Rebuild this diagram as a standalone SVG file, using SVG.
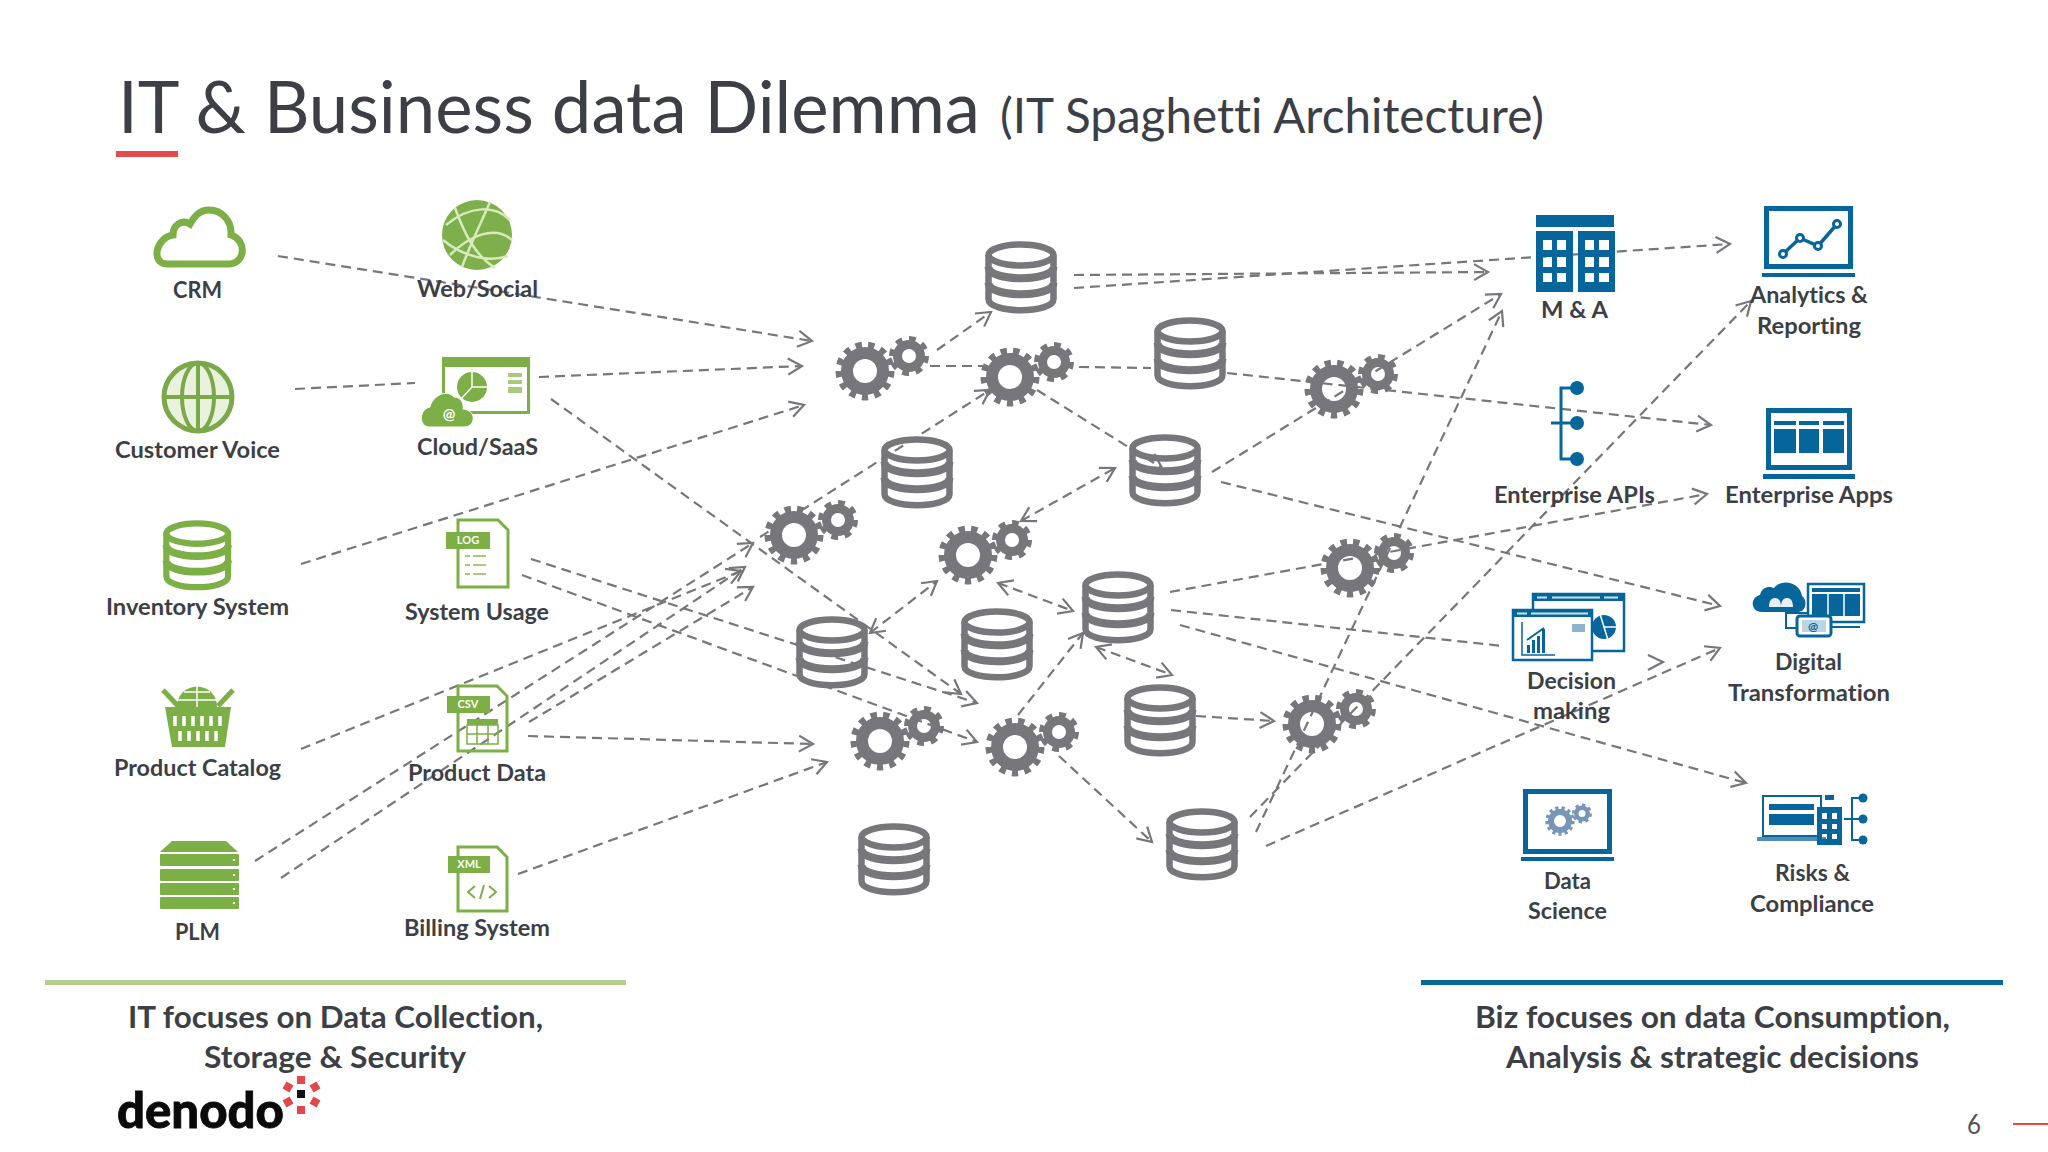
<svg xmlns="http://www.w3.org/2000/svg" width="2048" height="1152" viewBox="0 0 2048 1152">
<style>
text{font-family:"Lato","Noto Sans",sans-serif;fill:#3c3f46;font-variant-ligatures:none}
.l{font-size:22px;font-weight:700}
.h{font-size:30px;font-weight:700}
.c line{stroke:#77777b;stroke-width:2.2;stroke-dasharray:10 6;fill:none}
.a{marker-end:url(#v)}
.b{marker-start:url(#v);marker-end:url(#v)}
.g{color:#7caf45}
.gf{fill:#7caf45}
.bf{fill:#06669b}
.bs{fill:none;stroke:#06669b}
.gs{fill:none;stroke:#7caf45}
.w{fill:#fff}
.grey{color:#77777b}
.tag{font-size:11px;font-weight:700;fill:#fff;text-anchor:middle}
</style>
<defs>
<marker id="v" markerUnits="userSpaceOnUse" markerWidth="22" markerHeight="22" refX="17" refY="11" orient="auto-start-reverse"><path d="M3 3L17 11L3 19" fill="none" stroke="#77777b" stroke-width="2.2"/></marker>
<g id="db" fill="none" stroke="currentColor" stroke-width="6.5">
<ellipse cx="36" cy="14" rx="32.5" ry="10.5"/>
<path d="M3.5 14V58C3.500 73 68.500 73 68.500 58V14"/>
<path d="M3.500 26C3.500 41 68.500 41 68.500 26" stroke-width="8"/>
<path d="M3.500 42C3.500 57 68.500 57 68.500 42" stroke-width="8"/>
</g>
<g id="gears" fill="none" stroke="currentColor">
<circle r="18" stroke-width="12"/>
<circle r="26" stroke-width="7" pathLength="26" stroke-dasharray="1 1"/>
<circle cx="44" cy="-15" r="11.500" stroke-width="9"/>
<circle cx="44" cy="-15" r="17.500" stroke-width="5" pathLength="16" stroke-dasharray="1 1"/>
</g>
</defs>
<rect width="2048" height="1152" fill="#fff"/>
<g id="title">
<text x="118" y="133" font-size="72" textLength="862" lengthAdjust="spacingAndGlyphs">IT &amp; Business data Dilemma</text>
<text x="1000" y="133" font-size="48" textLength="544" lengthAdjust="spacingAndGlyphs">(IT Spaghetti Architecture)</text>
<rect x="116" y="151" width="62" height="6" fill="#e04b4b"/>
</g>
<g id="connectors" class="c">
<line class="a" x1="278" y1="256" x2="812" y2="341"/>
<line x1="295" y1="389" x2="415" y2="383"/>
<line class="a" x1="539" y1="377" x2="802" y2="366"/>
<line class="a" x1="301" y1="564" x2="804" y2="405"/>
<line class="a" x1="551" y1="399" x2="961" y2="694"/>
<line class="a" x1="531" y1="559" x2="977" y2="703"/>
<line class="a" x1="522" y1="575" x2="977" y2="742"/>
<line class="a" x1="301" y1="749" x2="741" y2="571"/>
<line class="a" x1="255" y1="861" x2="753" y2="543"/>
<line class="a" x1="281" y1="878" x2="745" y2="567"/>
<line class="a" x1="529" y1="722" x2="753" y2="587"/>
<line class="a" x1="528" y1="736" x2="813" y2="744"/>
<line class="a" x1="518" y1="874" x2="827" y2="762"/>
<line class="a" x1="760" y1="537" x2="990" y2="390"/>
<line class="a" x1="937" y1="350" x2="991" y2="312"/>
<line x1="930" y1="366" x2="986" y2="366"/>
<line x1="1079" y1="367" x2="1151" y2="368"/>
<line class="a" x1="1037" y1="390" x2="1162" y2="468"/>
<line class="a" x1="1074" y1="275" x2="1488" y2="272"/>
<line class="a" x1="1074" y1="288" x2="1730" y2="244"/>
<line class="a" x1="1227" y1="373" x2="1711" y2="425"/>
<line class="a" x1="1212" y1="472" x2="1501" y2="294"/>
<line class="a" x1="1221" y1="482" x2="1720" y2="606"/>
<line class="a" x1="1170" y1="592" x2="1707" y2="494"/>
<line x1="1171" y1="610" x2="1503" y2="646"/>
<line class="a" x1="1180" y1="625" x2="1746" y2="783"/>
<line class="a" x1="1256" y1="832" x2="1502" y2="311"/>
<line class="a" x1="1250" y1="817" x2="1751" y2="301"/>
<line class="a" x1="1266" y1="846" x2="1720" y2="648"/>
<line class="a" x1="1059" y1="756" x2="1152" y2="842"/>
<line class="a" x1="1018" y1="715" x2="1083" y2="633"/>
<line class="a" x1="1196" y1="716" x2="1274" y2="721"/>
<line class="b" x1="1096" y1="647" x2="1172" y2="675"/>
<line class="b" x1="998" y1="583" x2="1073" y2="611"/>
<line class="b" x1="870" y1="633" x2="937" y2="581"/>
<line class="b" x1="1021" y1="521" x2="1115" y2="468"/>
<path d="M1648 655L1663 662L1648 670" fill="none" stroke="#77777b" stroke-width="2.2"/>
</g>
<g id="process" class="grey">
<use id="db1" href="#db" x="985" y="241"/>
<use id="db2" href="#db" x="1154" y="317"/>
<use id="db3" href="#db" x="881" y="436"/>
<use id="db4" href="#db" x="1129" y="434"/>
<use id="db5" href="#db" x="796" y="616"/>
<use id="db6" href="#db" x="961" y="608"/>
<use id="db7" href="#db" x="1082" y="571"/>
<use id="db8" href="#db" x="1124" y="684"/>
<use id="db9" href="#db" x="858" y="823"/>
<use id="db10" href="#db" x="1166" y="808"/>
<use id="gears1" href="#gears" x="865" y="371"/>
<use id="gears2" href="#gears" x="1010" y="377"/>
<use id="gears3" href="#gears" x="1334" y="389"/>
<use id="gears4" href="#gears" x="794" y="535"/>
<use id="gears5" href="#gears" x="968" y="555"/>
<use id="gears6" href="#gears" x="1350" y="568"/>
<use id="gears7" href="#gears" x="880" y="741"/>
<use id="gears8" href="#gears" x="1015" y="747"/>
<use id="gears9" href="#gears" x="1312" y="724"/>
</g>
<g id="crm">
<path class="gs" stroke-width="7" d="M167 264H228C246 264 247 240 231 235C232 221 222 210 209 210C199 210 194 217 190 224C182 219 173 225 173 235C155 238 151 264 167 264Z"/>
<text class="l" x="173" y="298" textLength="49" lengthAdjust="spacingAndGlyphs">CRM</text>
</g>
<g id="web-social">
<circle cx="477" cy="235" r="35" fill="#7fae4c"/>
<path d="M446 225C470 205 495 205 510 220M450 255C470 235 495 225 512 240M455 208C465 235 475 255 495 268M490 202C480 225 470 245 462 267M443 240C465 258 490 262 508 256" fill="none" stroke="#d6ebb8" stroke-width="2.500"/>
<text class="l" x="417" y="297" textLength="121" lengthAdjust="spacingAndGlyphs">Web/Social</text>
</g>
<g id="customer-voice">
<circle cx="198" cy="397" r="34" fill="#e9f2dc" stroke="#7ca84c" stroke-width="5"/>
<ellipse cx="198" cy="397" rx="16" ry="34" fill="none" stroke="#7ca84c" stroke-width="4"/>
<path d="M198 363V431M164 397H232" fill="none" stroke="#7ca84c" stroke-width="4"/>
<text class="l" x="115" y="458" textLength="165" lengthAdjust="spacingAndGlyphs">Customer Voice</text>
</g>
<g id="cloud-saas">
<rect x="443.500" y="358.500" width="85" height="54" class="gs" stroke-width="3"/>
<rect x="442" y="357" width="88" height="10" class="gf"/>
<circle cx="472" cy="387" r="15" class="gf"/>
<path d="M472 372V387L461 399M472 387H487" fill="none" stroke="#fff" stroke-width="1.500"/>
<path d="M508 373h14v4h-14zM508 380h14v4h-14zM508 387h14v6h-14z" fill="#a9c97f"/>
<path d="M430 427C418 427 419 409 430 407C432 397 446 388 454 397C462 397 464 405 463 409C477 410 476 427 464 427Z" class="gf" stroke="#fff" stroke-width="1"/>
<text class="tag" x="449" y="419" font-size="15" style="font-size:15px">@</text>
<text class="l" x="417" y="455" textLength="121" lengthAdjust="spacingAndGlyphs">Cloud/SaaS</text>
</g>
<g id="inventory-system" class="g">
<use href="#db" transform="translate(163 520) scale(.95 .97)"/>
<text class="l" x="106" y="615" textLength="183" lengthAdjust="spacingAndGlyphs">Inventory System</text>
</g>
<g id="system-usage">
<path class="gs" stroke-width="3" d="M458 520H498L508 530V587H458Z"/>
<rect x="446" y="532" width="44" height="17" class="gf"/>
<text class="tag" x="468" y="544">LOG</text>
<path d="M465 556h5M473 556h13M465 565h5M473 565h13M465 574h5M473 574h13" stroke="#a9c97f" stroke-width="2"/>
<text class="l" x="405" y="620" textLength="144" lengthAdjust="spacingAndGlyphs">System Usage</text>
</g>
<g id="product-catalog">
<path class="gf" d="M177 707C177 680 217 680 217 707Z"/>
<path d="M197 682V707M184 692H210M177 700H217" stroke="#fff" stroke-width="1.500" fill="none"/>
<path d="M163 690L178 706M233 690L218 706" class="gs" stroke-width="5"/>
<path class="gf" d="M165 707H231L225 747H172Z"/>
<path d="M175 716v10M184 716v10M193 716v10M202 716v10M211 716v10M220 716v10M180 731v10M189 731v10M198 731v10M207 731v10M216 731v10" stroke="#fff" stroke-width="3.500"/>
<text class="l" x="114" y="776" textLength="167" lengthAdjust="spacingAndGlyphs">Product Catalog</text>
</g>
<g id="product-data">
<path class="gs" stroke-width="3" d="M458 686H497L507 696V751H458Z"/>
<rect x="447" y="696" width="43" height="17" class="gf"/>
<text class="tag" x="468" y="708">CSV</text>
<path d="M467 719h31v6h-31z" class="gf"/>
<path d="M467 725h31v19h-31zM477 725v19M488 725v19M467 734h31" class="gs" stroke-width="1.500"/>
<text class="l" x="408" y="781" textLength="138" lengthAdjust="spacingAndGlyphs">Product Data</text>
</g>
<g id="plm">
<path class="gf" d="M172 841H226L238 852H160Z"/>
<rect x="160" y="854" width="79" height="12" rx="1" class="gf"/>
<rect x="160" y="869" width="79" height="12" rx="1" class="gf"/>
<rect x="160" y="883" width="79" height="12" rx="1" class="gf"/>
<rect x="160" y="897" width="79" height="12" rx="1" class="gf"/>
<path d="M233 860h2M233 875h2M233 889h2M233 903h2" stroke="#fff" stroke-width="2"/>
<text class="l" x="175" y="940" textLength="45" lengthAdjust="spacingAndGlyphs">PLM</text>
</g>
<g id="billing-system">
<path class="gs" stroke-width="3" d="M458 847H497L507 857V911H458Z"/>
<rect x="448" y="856" width="42" height="17" class="gf"/>
<text class="tag" x="469" y="868">XML</text>
<path d="M475 886L468 892L475 898M489 886L496 892L489 898M480 899L484 885" class="gs" stroke-width="2"/>
<text class="l" x="404" y="936" textLength="146" lengthAdjust="spacingAndGlyphs">Billing System</text>
</g>
<g id="it-note">
<rect x="45" y="980" width="581" height="5" fill="#b5cf8f"/>
<text class="h" x="128" y="1028" textLength="415" lengthAdjust="spacingAndGlyphs">IT focuses on Data Collection,</text>
<text class="h" x="204" y="1068" textLength="262" lengthAdjust="spacingAndGlyphs">Storage &amp; Security</text>
</g>
<g id="denodo">
<text x="117" y="1128" font-size="50" font-weight="900" style="fill:#0a0a0a;stroke:#0a0a0a;stroke-width:.8" textLength="167" lengthAdjust="spacingAndGlyphs">denodo</text>
<rect x="297" y="1090" width="8" height="8" fill="#111"/>
<g fill="#e2474b"><rect x="297" y="1076" width="8" height="8"/><rect x="297" y="1106" width="8" height="8"/><rect x="284" y="1083" width="8" height="8" transform="rotate(30 288 1087)"/><rect x="311" y="1083" width="8" height="8" transform="rotate(-30 315 1087)"/><rect x="284" y="1098" width="8" height="8" transform="rotate(-30 288 1102)"/><rect x="311" y="1098" width="8" height="8" transform="rotate(30 315 1102)"/></g>
</g>
<g id="m-and-a">
<rect x="1536" y="215" width="78" height="12" class="bf"/>
<path class="bf" fill-rule="evenodd" d="M1536 231h37v61h-37zM1543 240v10h9v-10zM1557 240v10h9v-10zM1543 257v10h9v-10zM1557 257v10h9v-10zM1543 273v9h9v-9zM1557 273v9h9v-9zM1578 231h37v61h-37zM1585 240v10h9v-10zM1599 240v10h10v-10zM1585 257v10h9v-10zM1599 257v10h10v-10zM1585 273v9h9v-9zM1599 273v9h10v-9z"/>
<text class="l" x="1541" y="318" textLength="67" lengthAdjust="spacingAndGlyphs">M &amp; A</text>
</g>
<g id="analytics">
<rect x="1766.500" y="208.500" width="84" height="58" class="bs" stroke-width="5"/>
<rect x="1762" y="273" width="93" height="4" class="bf"/>
<path class="bs" stroke-width="3.500" d="M1783 254L1800 238L1818 246L1837 224"/>
<g class="w" stroke="#06669b" stroke-width="3"><circle cx="1783" cy="254" r="3.500"/><circle cx="1800" cy="238" r="3.500"/><circle cx="1818" cy="246" r="3.500"/><circle cx="1837" cy="224" r="3.500"/></g>
<text class="l" x="1750" y="303" textLength="118" lengthAdjust="spacingAndGlyphs">Analytics &amp;</text>
<text class="l" x="1757" y="334" textLength="104" lengthAdjust="spacingAndGlyphs">Reporting</text>
</g>
<g id="enterprise-apis">
<path class="bs" stroke-width="3" d="M1577 388H1561V459H1577M1551 423H1577"/>
<circle cx="1577" cy="388" r="7" class="bf"/><circle cx="1577" cy="423" r="7" class="bf"/><circle cx="1577" cy="459" r="7" class="bf"/>
<text class="l" x="1494" y="503" textLength="161" lengthAdjust="spacingAndGlyphs">Enterprise APIs</text>
</g>
<g id="enterprise-apps">
<rect x="1768.500" y="410.500" width="81" height="57" class="bs" stroke-width="5"/>
<rect x="1763" y="474" width="92" height="5" class="bf"/>
<path class="bf" d="M1774 421h22v4h-22zM1799 421h20v4h-20zM1823 421h21v4h-21zM1774 429h22v24h-22zM1799 429h20v24h-20zM1823 429h21v24h-21z"/>
<text class="l" x="1725" y="503" textLength="168" lengthAdjust="spacingAndGlyphs">Enterprise Apps</text>
</g>
<g id="decision-making">
<rect x="1533" y="594" width="91" height="57" class="w" stroke="#06669b" stroke-width="2.500"/>
<rect x="1533" y="594" width="91" height="7" class="bf"/>
<path d="M1537 597.500h10M1552 597.500h48M1604 597.500h14" stroke="#cfe0ea" stroke-width="2"/>
<circle cx="1604" cy="627" r="12" class="bf"/>
<path d="M1600 614L1608 640M1604 627H1617" stroke="#fff" stroke-width="1.500" fill="none"/>
<rect x="1513" y="610" width="79" height="50" class="w" stroke="#06669b" stroke-width="2.500"/>
<rect x="1513" y="610" width="79" height="7" class="bf"/>
<path d="M1517 613.500h10M1531 613.500h57" stroke="#cfe0ea" stroke-width="2"/>
<path class="bs" stroke-width="1.500" d="M1522 622V655H1555"/>
<path class="bf" d="M1527 645h3v8h-3zM1532 640h3v13h-3zM1537 636h3v17h-3zM1542 629h3v24h-3z"/>
<path class="bs" stroke-width="2" d="M1527 640L1544 628"/>
<rect x="1572" y="624" width="13" height="8" fill="#8fb3cc"/>
<text class="l" x="1527" y="689" textLength="89" lengthAdjust="spacingAndGlyphs">Decision</text>
<text class="l" x="1533" y="719" textLength="77" lengthAdjust="spacingAndGlyphs">making</text>
</g>
<g id="digital-transformation">
<path class="bf" d="M1762 612C1750 612 1750 597 1760 595C1762 586 1770 586 1774 588C1782 578 1800 582 1802 596C1808 600 1806 612 1798 612Z"/>
<path d="M1769 607c0-7 3-9 6-9s6 2 6 9zM1781 607c0-7 3-9 6-9s6 2 6 9z" fill="#e6eff5"/>
<rect x="1808" y="584" width="56" height="38" class="w" stroke="#06669b" stroke-width="2.500"/>
<path class="bf" d="M1812 588h48v4h-48zM1812 594h48v22h-48z"/>
<path d="M1828 594v22M1844 594v22" stroke="#fff" stroke-width="1.500"/>
<rect x="1786" y="613" width="22" height="15" class="w" stroke="#06669b" stroke-width="2"/>
<path class="bs" stroke-width="2" d="M1832 627H1860"/>
<rect x="1797" y="616" width="34" height="20" rx="3" class="w" stroke="#06669b" stroke-width="3"/>
<rect x="1802" y="620" width="24" height="12" fill="#bcd5e5"/>
<text class="tag" x="1813" y="631" style="font-size:12px;fill:#06669b">@</text>
<text class="l" x="1775" y="670" textLength="67" lengthAdjust="spacingAndGlyphs">Digital</text>
<text class="l" x="1728" y="701" textLength="162" lengthAdjust="spacingAndGlyphs">Transformation</text>
</g>
<g id="data-science">
<rect x="1525.500" y="791.500" width="84" height="60" class="bs" stroke-width="5"/>
<rect x="1521" y="857" width="93" height="4" class="bf"/>
<use href="#gears" transform="translate(1560 821) scale(.5)" style="color:#7795b8"/>
<text class="l" x="1544" y="889" textLength="47" lengthAdjust="spacingAndGlyphs">Data</text>
<text class="l" x="1528" y="919" textLength="79" lengthAdjust="spacingAndGlyphs">Science</text>
</g>
<g id="risks-compliance">
<rect x="1763" y="796" width="58" height="40" class="w" stroke="#06669b" stroke-width="2"/>
<path class="bf" d="M1769 804h45v6h-45zM1769 814h45v11h-45z"/>
<rect x="1757" y="837" width="69" height="4" fill="#4f8fb5"/>
<path class="bf" fill-rule="evenodd" d="M1817 807h25v38h-25zM1822 813v6h5v-6zM1832 813v6h5v-6zM1822 824v5h5v-5zM1832 824v5h5v-5zM1822 834v5h5v-5zM1832 834v5h5v-5z"/>
<rect x="1825" y="795" width="9" height="5" class="bf"/>
<path class="bs" stroke-width="2" d="M1863 798H1852V840H1863M1844 819H1863"/>
<circle cx="1863" cy="798" r="4.500" class="bf"/><circle cx="1863" cy="819" r="4.500" class="bf"/><circle cx="1863" cy="840" r="4.500" class="bf"/>
<text class="l" x="1775" y="881" textLength="75" lengthAdjust="spacingAndGlyphs">Risks &amp;</text>
<text class="l" x="1750" y="912" textLength="124" lengthAdjust="spacingAndGlyphs">Compliance</text>
</g>
<g id="biz-note">
<rect x="1421" y="980" width="582" height="5" fill="#0a6a94"/>
<text class="h" x="1475" y="1028" textLength="475" lengthAdjust="spacingAndGlyphs">Biz focuses on data Consumption,</text>
<text class="h" x="1506" y="1068" textLength="413" lengthAdjust="spacingAndGlyphs">Analysis &amp; strategic decisions</text>
</g>
<g id="page-number">
<text x="1967" y="1134" font-size="26" font-weight="400" style="fill:#555" textLength="14" lengthAdjust="spacingAndGlyphs">6</text>
<rect x="2013" y="1123" width="35" height="2" fill="#e04b4b"/>
</g>
</svg>
